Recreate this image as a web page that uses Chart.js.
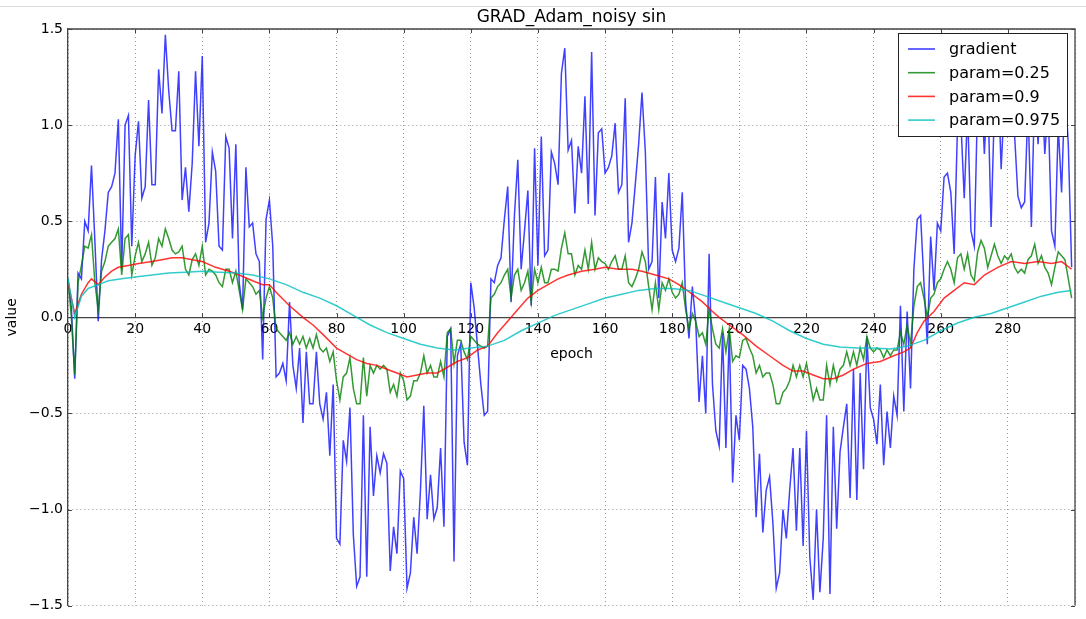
<!DOCTYPE html>
<html>
<head>
<meta charset="utf-8">
<script src="https://cdn.jsdelivr.net/npm/chart.js@4.4.1/dist/chart.umd.min.js"></script>
<style>
  html, body { margin: 0; padding: 0; background: #fff; }
  #chart { display: block; }
</style>
</head>
<body>
<canvas id="chart" width="1086" height="619"></canvas>
<script>
const chartTitle = "GRAD_Adam_noisy sin";
const seriesNames = ["gradient", "param=0.25", "param=0.9", "param=0.975"];
const yTicks = [-1.5, -1.0, -0.5, 0.0, 0.5, 1.0, 1.5];
const xTickStep = 20;

// gradient, one value per epoch 0..299
const gradient = [
  0.20, 0.05, -0.32, 0.23, 0.20, 0.50, 0.45, 0.79, 0.40, -0.02,
  0.30, 0.45, 0.65, 0.68, 0.75, 1.03, 0.25, 1.00, 1.05, 0.37,
  0.84, 1.02, 0.62, 0.68, 1.13, 0.69, 0.69, 1.29, 1.06, 1.47,
  1.18, 0.97, 0.97, 1.28, 0.61, 0.78, 0.55, 0.80, 1.28, 0.89,
  1.36, 0.39, 0.49, 0.86, 0.76, 0.37, 0.35, 0.94, 0.88, 0.41,
  0.90, 0.18, 0.04, 0.78, 0.47, 0.49, 0.33, 0.29, -0.22, 0.51,
  0.61, 0.37, -0.31, -0.29, -0.24, -0.33, 0.08, -0.25, -0.37, -0.16,
  -0.55, -0.18, -0.45, -0.45, -0.18, -0.45, -0.53, -0.39, -0.72, -0.35,
  -1.15, -1.18, -0.64, -0.75, -0.47, -1.13, -1.40, -1.35, -0.51, -1.35,
  -0.57, -0.93, -0.72, -0.81, -0.71, -0.76, -1.32, -1.09, -1.23, -0.80,
  -0.84, -1.41, -1.33, -1.04, -1.23, -0.90, -0.46, -1.05, -0.82, -1.05,
  -0.99, -0.68, -1.09, -0.10, -0.06, -1.27, -0.20, -0.14, -0.65, -0.77,
  0.18, 0.05, -0.15, -0.35, -0.51, -0.49, 0.20, 0.18, 0.27, 0.31,
  0.51, 0.68, 0.08, 0.53, 0.82, 0.25, 0.45, 0.66, 0.06, 0.88,
  0.27, 0.94, 0.32, 0.35, 0.86, 0.80, 0.69, 1.27, 1.40, 0.87,
  0.92, 0.54, 0.89, 0.75, 1.15, 0.59, 1.38, 0.53, 0.96, 0.98,
  0.75, 0.78, 0.84, 1.01, 0.65, 0.69, 1.14, 0.39, 0.49, 0.69,
  0.90, 1.17, 0.86, 0.25, 0.29, 0.73, 0.10, 0.60, 0.41, 0.75,
  0.35, 0.29, 0.36, 0.65, 0.08, -0.11, 0.16, -0.02, -0.44, -0.20,
  -0.50, 0.33, -0.35, -0.59, -0.67, -0.08, -0.68, -0.08, -0.86, -0.51,
  -0.64, -0.25, -0.27, -0.37, -0.57, -1.04, -0.71, -1.12, -0.90, -0.83,
  -1.07, -1.41, -1.33, -1.00, -1.15, -0.90, -0.68, -1.11, -0.68, -1.19,
  -0.59, -1.25, -1.47, -1.00, -1.43, -1.15, -0.51, -1.44, -0.57, -1.10,
  -0.70, -0.57, -0.45, -0.94, -0.27, -0.95, -0.29, -0.79, -0.10, -0.47,
  -0.53, -0.66, -0.35, -0.77, -0.49, -0.68, -0.41, -0.51, 0.06, -0.49,
  0.03, -0.37, 0.25, 0.51, 0.53, 0.18, -0.14, 0.42, 0.14, 0.49,
  0.45, 0.73, 0.75, 0.65, 0.33, 1.00, 1.02, 0.62, 1.08, 0.45,
  0.37, 1.15, 1.25, 0.85, 1.20, 0.47, 1.10, 1.30, 0.77, 1.15,
  1.05, 1.30, 0.95, 0.63, 0.57, 0.60, 1.10, 0.47, 1.20, 0.90,
  1.25, 0.85, 1.10, 0.45, 0.37, 1.00, 0.65, 1.20, 0.90, 0.26
];

// param=0.25, one value per epoch 0..299
const param025 = [
  0.20, 0.00, -0.30, 0.18, 0.27, 0.37, 0.36, 0.43, 0.18, 0.04,
  0.24, 0.29, 0.37, 0.39, 0.41, 0.46, 0.22, 0.41, 0.43, 0.22,
  0.32, 0.39, 0.29, 0.33, 0.39, 0.27, 0.31, 0.41, 0.37, 0.46,
  0.41, 0.35, 0.33, 0.34, 0.37, 0.25, 0.22, 0.30, 0.33, 0.27,
  0.37, 0.22, 0.25, 0.24, 0.22, 0.18, 0.16, 0.25, 0.25, 0.18,
  0.24, 0.14, 0.04, 0.20, 0.18, 0.16, 0.12, 0.14, 0.00, 0.10,
  0.16, 0.10, -0.06, -0.08, -0.10, -0.12, -0.08, -0.14, -0.10, -0.14,
  -0.10, -0.16, -0.11, -0.16, -0.09, -0.16, -0.18, -0.16, -0.23, -0.18,
  -0.33, -0.43, -0.31, -0.29, -0.21, -0.37, -0.45, -0.45, -0.21, -0.41,
  -0.25, -0.29, -0.25, -0.27, -0.25, -0.27, -0.39, -0.35, -0.41, -0.29,
  -0.33, -0.43, -0.41, -0.33, -0.33, -0.29, -0.20, -0.29, -0.25, -0.31,
  -0.31, -0.23, -0.31, -0.08, -0.06, -0.24, -0.12, -0.12, -0.18, -0.22,
  -0.10, -0.12, -0.14, -0.15, -0.16, -0.15, 0.10, 0.12, 0.16, 0.18,
  0.22, 0.25, 0.10, 0.22, 0.25, 0.14, 0.18, 0.24, 0.08, 0.25,
  0.18, 0.26, 0.18, 0.18, 0.25, 0.25, 0.24, 0.36, 0.44, 0.33,
  0.33, 0.22, 0.27, 0.25, 0.35, 0.25, 0.39, 0.25, 0.31, 0.29,
  0.28, 0.25, 0.29, 0.32, 0.25, 0.25, 0.32, 0.18, 0.16, 0.20,
  0.25, 0.34, 0.29, 0.16, 0.04, 0.18, 0.04, 0.18, 0.14, 0.20,
  0.13, 0.10, 0.12, 0.18, 0.04, -0.06, 0.02, -0.02, -0.10, -0.08,
  -0.14, 0.04, -0.06, -0.14, -0.16, -0.06, -0.18, -0.06, -0.23, -0.20,
  -0.21, -0.12, -0.11, -0.16, -0.20, -0.29, -0.25, -0.31, -0.29, -0.29,
  -0.35, -0.45, -0.45, -0.39, -0.37, -0.33, -0.25, -0.31, -0.25, -0.31,
  -0.24, -0.33, -0.43, -0.37, -0.43, -0.43, -0.25, -0.35, -0.25, -0.33,
  -0.27, -0.25, -0.18, -0.25, -0.18, -0.25, -0.16, -0.22, -0.10, -0.16,
  -0.18, -0.16, -0.17, -0.21, -0.17, -0.20, -0.17, -0.17, -0.08, -0.14,
  -0.04, -0.14, 0.06, 0.16, 0.18, 0.10, 0.00, 0.10, 0.12, 0.18,
  0.20, 0.25, 0.29, 0.25, 0.18, 0.31, 0.33, 0.25, 0.33, 0.22,
  0.19, 0.34, 0.40, 0.36, 0.26, 0.32, 0.38, 0.32, 0.28, 0.32,
  0.30, 0.33, 0.26, 0.23, 0.25, 0.23, 0.30, 0.32, 0.38, 0.28,
  0.32, 0.26, 0.23, 0.17, 0.26, 0.34, 0.32, 0.30, 0.20, 0.10
];

// param=0.9, smooth, read at these epochs
const param09Epochs = [
  0, 2, 4, 6, 7, 9, 11, 13, 15, 18, 21, 25, 28, 31, 34, 37, 40, 44, 48, 51,
  55, 58, 60, 62, 66, 70, 73, 76, 80, 83, 86, 89, 92, 95, 98, 101, 104, 107, 110, 113,
  116, 119, 122, 125, 128, 131, 134, 137, 140, 143, 146, 149, 153, 157, 160, 164, 168, 171, 175, 179,
  182, 186, 189, 192, 194, 197, 201, 205, 209, 213, 216, 219, 222, 225, 228, 231, 234, 238, 242, 246,
  249, 251, 253, 255, 258, 261, 264, 267, 270, 273, 277, 281, 285, 289, 293, 296, 299
];
const param09 = [
  0.18, 0.02, 0.12, 0.18, 0.20, 0.17, 0.21, 0.24, 0.26, 0.27, 0.28, 0.29, 0.30, 0.31, 0.31, 0.30, 0.29, 0.26, 0.24, 0.22,
  0.19, 0.17, 0.17, 0.13, 0.06, 0.00, -0.04, -0.09, -0.16, -0.19, -0.22, -0.24, -0.25, -0.27, -0.29, -0.31, -0.30, -0.29, -0.29, -0.26,
  -0.23, -0.21, -0.17, -0.15, -0.08, -0.02, 0.04, 0.10, 0.14, 0.17, 0.20, 0.22, 0.24, 0.25, 0.26, 0.25, 0.25, 0.24, 0.22, 0.20,
  0.17, 0.12, 0.08, 0.03, 0.00, -0.04, -0.09, -0.15, -0.20, -0.25, -0.28, -0.28, -0.30, -0.32, -0.32, -0.30, -0.27, -0.24, -0.23, -0.20,
  -0.18, -0.16, -0.08, -0.02, 0.03, 0.10, 0.14, 0.18, 0.17, 0.22, 0.26, 0.29, 0.28, 0.29, 0.28, 0.29, 0.25
];

// param=0.975, smooth, read at these epochs
const param0975Epochs = [
  0, 2, 4, 6, 9, 12, 16, 20, 25, 30, 35, 40, 45, 50, 55, 60, 65, 70, 75, 80,
  85, 90, 95, 100, 105, 110, 115, 120, 125, 130, 135, 140, 145, 150, 155, 160, 165, 170, 175, 180,
  185, 190, 195, 200, 205, 210, 215, 220, 225, 230, 235, 240, 245, 250, 255, 260, 265, 270, 275, 280,
  285, 290, 295, 299
];
const param0975 = [
  0.20, 0.00, 0.11, 0.15, 0.17, 0.19, 0.20, 0.21, 0.22, 0.23, 0.235, 0.24, 0.235, 0.23, 0.22, 0.20, 0.17, 0.13, 0.10, 0.06,
  0.01, -0.04, -0.08, -0.11, -0.14, -0.16, -0.17, -0.16, -0.15, -0.12, -0.07, -0.03, 0.01, 0.04, 0.07, 0.10, 0.12, 0.14, 0.15, 0.15,
  0.14, 0.11, 0.08, 0.05, 0.02, -0.02, -0.07, -0.11, -0.14, -0.155, -0.16, -0.16, -0.165, -0.15, -0.12, -0.07, -0.03, 0.00, 0.02, 0.05,
  0.08, 0.11, 0.13, 0.14
];

const seriesColors = ["rgba(0,0,255,0.75)", "rgba(0,128,0,0.8)", "rgba(255,0,0,0.8)", "rgba(0,191,191,0.8)"];
const fontFamily = "'DejaVu Sans', 'Liberation Sans', sans-serif";

function toPoints(xs, ys) {
  return ys.map((y, i) => ({ x: xs ? xs[i] : i, y: y }));
}

function fmt(v) {
  return v.toFixed(1).replace("-", "\u2212");
}

// top and right spines, inward ticks, title, legend
const framePlugin = {
  id: "frame",
  afterDraw(chart) {
    const { ctx, chartArea: a, scales } = chart;
    ctx.save();

    ctx.strokeStyle = "#dcdcdc";
    ctx.lineWidth = 1;
    ctx.beginPath();
    ctx.moveTo(0, 6.5);
    ctx.lineTo(chart.width, 6.5);
    ctx.stroke();

    ctx.strokeStyle = "#444";
    ctx.lineWidth = 1.3;
    ctx.beginPath();
    ctx.moveTo(a.left, a.top);
    ctx.lineTo(a.right, a.top);
    ctx.lineTo(a.right, a.bottom);
    ctx.stroke();

    ctx.lineWidth = 1;
    ctx.beginPath();
    yTicks.forEach(v => {
      const py = Math.round(scales.y.getPixelForValue(v)) + 0.5;
      ctx.moveTo(a.left, py); ctx.lineTo(a.left + 4, py);
      ctx.moveTo(a.right, py); ctx.lineTo(a.right - 4, py);
    });
    for (let v = xTickStep; v < scales.x.max; v += xTickStep) {
      const px = Math.round(scales.x.getPixelForValue(v)) + 0.5;
      ctx.moveTo(px, a.top); ctx.lineTo(px, a.top + 4);
      const p0 = scales.y.getPixelForValue(0);
      ctx.moveTo(px, p0); ctx.lineTo(px, p0 - 4);
    }
    ctx.stroke();

    ctx.fillStyle = "#000";
    ctx.font = "17px " + fontFamily;
    ctx.textAlign = "center";
    ctx.textBaseline = "middle";
    ctx.fillText(chartTitle, (a.left + a.right) / 2, 18);

    // legend
    const lx = 898, ly = 33, lw = 169, lh = 103;
    ctx.fillStyle = "#fff";
    ctx.fillRect(lx, ly, lw, lh);
    ctx.strokeStyle = "#222";
    ctx.lineWidth = 1;
    ctx.strokeRect(lx + 0.5, ly + 0.5, lw, lh);
    ctx.font = "16px " + fontFamily;
    ctx.textAlign = "left";
    chart.data.datasets.forEach((ds, i) => {
      const y = ly + 16 + i * 23.7;
      ctx.strokeStyle = ds.borderColor;
      ctx.lineWidth = 1.6;
      ctx.beginPath();
      ctx.moveTo(lx + 10, y);
      ctx.lineTo(lx + 37, y);
      ctx.stroke();
      ctx.fillStyle = "#000";
      ctx.fillText(ds.label, lx + 51, y + 1);
    });
    ctx.restore();
  }
};

const makeSet = (i, data, order) => ({
  label: seriesNames[i],
  data: data,
  borderColor: seriesColors[i],
  backgroundColor: seriesColors[i],
  borderWidth: 1.5,
  pointRadius: 0,
  tension: 0,
  fill: false,
  order: order
});

new Chart(document.getElementById("chart"), {
  type: "line",
  data: {
    datasets: [
      makeSet(0, toPoints(null, gradient), 4),
      makeSet(1, toPoints(null, param025), 3),
      makeSet(2, toPoints(param09Epochs, param09), 2),
      makeSet(3, toPoints(param0975Epochs, param0975), 1)
    ]
  },
  options: {
    responsive: false,
    animation: false,
    layout: { padding: { top: 29, right: 11, bottom: 7, left: 0 } },
    plugins: { legend: { display: false }, title: { display: false }, tooltip: { enabled: false } },
    scales: {
      x: {
        type: "linear",
        position: { y: 0 },
        min: 0,
        max: 300,
        grid: { color: "rgba(0,0,0,0.4)", lineWidth: 1, drawTicks: false },
        border: { display: true, color: "#444", width: 1.3, dash: [1, 3] },
        ticks: {
          stepSize: xTickStep,
          padding: 4,
          color: "#000",
          font: { family: fontFamily, size: 14 },
          maxRotation: 0,
          callback: v => (v >= 300 ? "" : v)
        },
        title: { display: true, text: "epoch", color: "#000", font: { family: fontFamily, size: 14 }, padding: { top: 4, bottom: 0 } }
      },
      y: {
        min: -1.5,
        max: 1.5,
        grid: { color: "rgba(0,0,0,0.4)", lineWidth: 1, drawTicks: false },
        border: { display: true, color: "#444", width: 1.3, dash: [1, 3] },
        ticks: {
          stepSize: 0.5,
          padding: 5,
          color: "#000",
          font: { family: fontFamily, size: 14 },
          callback: v => fmt(v)
        },
        title: { display: true, text: "value", color: "#000", font: { family: fontFamily, size: 14 }, padding: 4 },
        afterFit: s => { s.width = 68; }
      }
    }
  },
  plugins: [framePlugin]
});
</script>
</body>
</html>
